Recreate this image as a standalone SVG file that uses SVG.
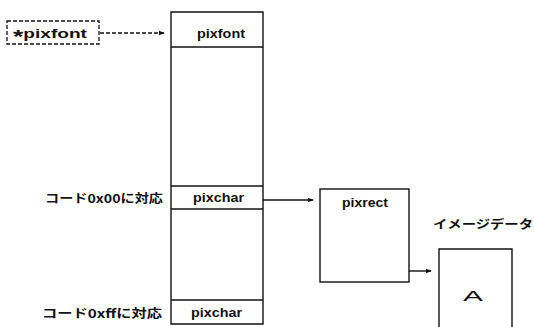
<svg xmlns="http://www.w3.org/2000/svg" width="534" height="327" viewBox="0 0 534 327">
<defs>
<style>
.ln{fill:none;stroke:#111;stroke-width:1.4}
.dash{fill:none;stroke:#111;stroke-width:1.3;stroke-dasharray:4 2}
.lb{font-family:"Liberation Sans","DejaVu Sans",sans-serif;font-weight:bold;font-size:13px;fill:#111}
.jp{font-family:"Noto Sans CJK JP","Liberation Sans",sans-serif;font-weight:bold;font-size:12px;fill:#111}
</style>
<marker id="ah" viewBox="0 0 8 8" refX="7" refY="4" markerWidth="6" markerHeight="6" orient="auto" markerUnits="userSpaceOnUse">
<path d="M0,1 L8,4 L0,7 z" fill="#111"/>
</marker>
</defs>
<rect width="534" height="327" fill="#fff"/>
<g id="ptr">
<rect class="dash" x="7" y="21" width="92" height="23"/>
<text class="lb" x="13" y="38" textLength="74" lengthAdjust="spacingAndGlyphs"><tspan font-size="18" baseline-shift="-5">*</tspan>pixfont</text>
</g>
<g id="pixfont-struct">
<path class="ln" d="M171,324 V12 H263 V324 Z"/>
<line class="ln" x1="171" y1="47" x2="263" y2="47"/>
<text class="lb" x="197" y="38" textLength="48" lengthAdjust="spacingAndGlyphs">pixfont</text>
<line class="ln" x1="171" y1="186" x2="263" y2="186"/>
<line class="ln" x1="171" y1="209" x2="263" y2="209"/>
<text class="lb" x="193" y="202" textLength="51" lengthAdjust="spacingAndGlyphs">pixchar</text>
<line class="ln" x1="171" y1="300" x2="263" y2="300"/>
<text class="lb" x="191" y="317" textLength="51" lengthAdjust="spacingAndGlyphs">pixchar</text>
</g>
<g id="label-00">
<text class="jp" x="45" y="203" textLength="118" lengthAdjust="spacingAndGlyphs">コード0x00に対応</text>
</g>
<g id="label-ff">
<text class="jp" x="42" y="318" textLength="120" lengthAdjust="spacingAndGlyphs">コード0xffに対応</text>
</g>
<g id="pixrect">
<rect class="ln" x="320" y="189" width="89" height="93"/>
<text class="lb" x="342" y="207" textLength="46" lengthAdjust="spacingAndGlyphs">pixrect</text>
</g>
<g id="image">
<text class="jp" x="433" y="229" font-size="13" textLength="100" lengthAdjust="spacingAndGlyphs">イメージデータ</text>
<path class="ln" d="M439,330 V249 H512 V330"/>
<text x="463" y="301" font-family="Liberation Sans, sans-serif" font-size="14" fill="#111" textLength="20" lengthAdjust="spacingAndGlyphs">A</text>
</g>
<g id="connectors">
<line class="dash" x1="100" y1="33" x2="164" y2="33" marker-end="url(#ah)"/>
<line class="ln" x1="263" y1="200" x2="313" y2="200" marker-end="url(#ah)"/>
<line class="ln" x1="409" y1="271" x2="431" y2="271" marker-end="url(#ah)"/>
</g>
</svg>
